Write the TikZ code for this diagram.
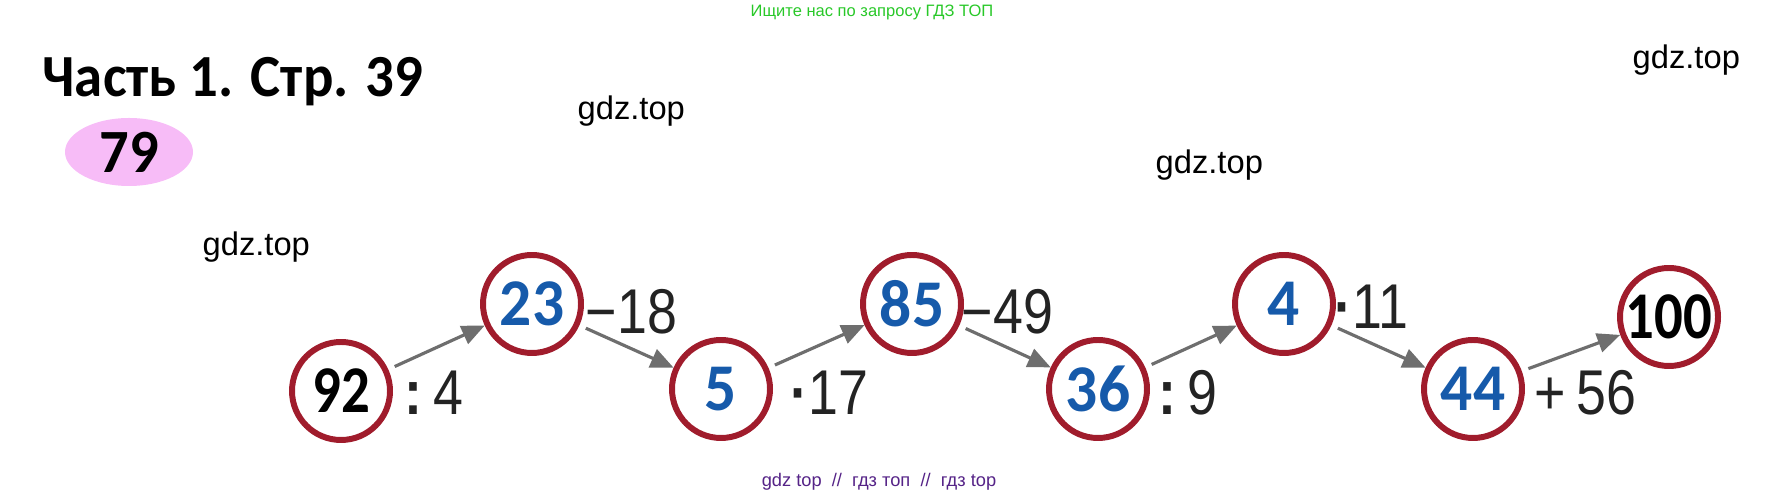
\documentclass[tikz,border=0pt]{standalone}
\usepackage{fontspec}
\setmainfont{Liberation Sans}
\newfontfamily\headfont[FakeStretch=0.95]{Carlito}
\newfontfamily\numfont[FakeStretch=0.85]{Carlito}
\newfontfamily\opfont[FakeStretch=0.85]{Liberation Sans}
\usepackage{tikz}
\usetikzlibrary{arrows.meta,shapes}
\definecolor{ringred}{RGB}{160,28,44}
\definecolor{numblue}{RGB}{22,90,170}
\definecolor{arrowgray}{RGB}{110,110,110}
\definecolor{opgray}{RGB}{35,35,35}
\definecolor{badgepink}{RGB}{247,188,247}
\definecolor{adgreen}{RGB}{40,200,40}
\definecolor{adpurple}{RGB}{85,35,135}
\tikzstyle{ring}=[circle,draw=ringred,line width=1.7pt,minimum size=9.8mm,inner sep=0pt]
\tikzstyle{answer}=[ring,text=numblue,font=\headfont\bfseries\fontsize{19}{20}\selectfont]
\tikzstyle{given}=[ring,font=\numfont\bfseries\fontsize{19}{20}\selectfont]
\tikzstyle{op}=[anchor=west,inner sep=0pt,text=opgray,font=\opfont\fontsize{18}{20}\selectfont]
\tikzstyle{wmark}=[anchor=base west,inner sep=0pt,font=\fontsize{9.3}{10}\selectfont]
\tikzstyle{edge} = [draw,line width=0.9pt,arrowgray,-{Triangle[length=6.5pt,width=5.5pt]},shorten <=2pt]
\newcommand{\opdot}{{\bfseries ·}}

\begin{document}
\begin{tikzpicture}[x=0.1mm,y=-0.1mm]
      \useasboundingbox (0,0) rectangle (1765,497);
      % heading
      \node[anchor=base,inner sep=0pt,text=adgreen,font=\fontsize{4.7}{6}\selectfont] (ad) at (872,17) {Ищите нас по запросу ГДЗ ТОП};
      \node[anchor=base west,inner sep=0pt,font=\headfont\bfseries\fontsize{17}{20}\selectfont] (title) at (42,97) {Часть 1. Стр. 39};
      \node[ellipse,fill=badgepink,minimum width=12.8mm,minimum height=6.8mm,inner sep=0pt,font=\headfont\bfseries\fontsize{17.5}{20}\selectfont] (task) at (129,152) {79};
      \node[wmark] (w1) at (577,120) {gdz.top};
      \node[wmark] (w2) at (1155,174) {gdz.top};
      \node[wmark] (w3) at (1632,69) {gdz.top};
      \node[wmark] (w4) at (202,256) {gdz.top};
      % chain
      \node[given] (c92) at (341,391) {92};
      \node[answer] (c23) at (532,304) {23};
      \node[answer] (c5) at (721,389) {5};
      \node[answer] (c85) at (912,304) {85};
      \node[answer] (c36) at (1098,389) {36};
      \node[answer] (c4) at (1284,304) {4};
      \node[answer] (c44) at (1473,389) {44};
      \node[given] (c100) at (1669,317) {100};
      \node[op] (o1) at (404,393) {{\bfseries :}\,4};
      \node[op] (o2) at (585,312) {−18};
      \node[op] (o3) at (790,393) {\opdot17};
      \node[op] (o4) at (961,312) {−49};
      \node[op] (o5) at (1158,393) {{\bfseries :}\,9};
      \node[op] (o6) at (1334,307) {\opdot11};
      \node[op] (o7) at (1534,393) {+\,56};
      \draw[edge] (c92) -- (c23);
      \draw[edge] (c23) -- (c5);
      \draw[edge] (c5) -- (c85);
      \draw[edge] (c85) -- (c36);
      \draw[edge] (c36) -- (c4);
      \draw[edge] (c4) -- (c44);
      \draw[edge] (c44) -- (c100);
      % footer
      \node[anchor=base,inner sep=0pt,text=adpurple,font=\fontsize{5.2}{6}\selectfont] (foot) at (879,487) {gdz top\ \ //\ \ гдз топ\ \ //\ \ гдз top};
    \end{tikzpicture}
\end{document}
